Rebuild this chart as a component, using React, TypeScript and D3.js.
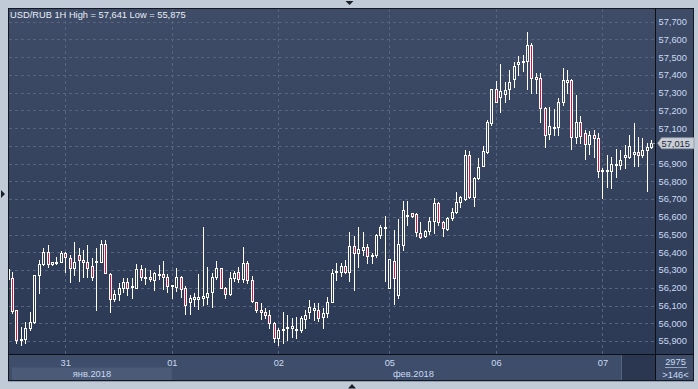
import React from "react";
import * as d3 from "d3";

// ---- data (USD/RUB 1H, 146 bars) ----
const opens = [
  56.306, 56.254, 56.075, 55.908, 55.910, 55.972, 56.009, 56.272, 56.332, 56.400,
  56.332, 56.344, 56.347, 56.394, 56.366, 56.310, 56.385, 56.357, 56.344, 56.325,
  56.344, 56.344, 56.447, 56.276, 56.137, 56.163, 56.197, 56.234, 56.206, 56.201,
  56.304, 56.259, 56.261, 56.242, 56.276, 56.276, 56.261, 56.212, 56.206, 56.261,
  56.197, 56.122, 56.135, 56.135, 56.144, 56.146, 56.175, 56.263, 56.310, 56.197,
  56.163, 56.257, 56.287, 56.248, 56.338, 56.242, 56.118, 56.073, 56.065, 56.047,
  56.000, 55.915, 55.966, 55.972, 55.972, 55.966, 55.962, 56.024, 56.065, 56.075,
  56.075, 56.037, 56.060, 56.122, 56.291, 56.291, 56.323, 56.291, 56.436, 56.398,
  56.415, 56.428, 56.385, 56.385, 56.498, 56.541, 56.201, 56.351, 56.159, 56.441,
  56.610, 56.620, 56.614, 56.507, 56.490, 56.518, 56.578, 56.676, 56.573, 56.531,
  56.592, 56.626, 56.682, 56.701, 56.949, 56.713, 56.817, 56.888, 56.964, 57.127,
  57.321, 57.277, 57.291, 57.319, 57.375, 57.460, 57.478, 57.478, 57.569, 57.390,
  57.381, 57.212, 57.067, 57.105, 57.105, 57.249, 57.362, 57.371, 57.048, 57.135,
  57.071, 57.009, 57.060, 57.046, 56.864, 56.864, 56.858, 56.896, 56.892, 56.936,
  56.939, 56.953, 56.964, 56.947, 56.977, 56.992,
];
const highs = [
  56.312, 56.291, 56.075, 55.981, 56.006, 56.062, 56.272, 56.357, 56.422, 56.441,
  56.347, 56.375, 56.407, 56.403, 56.385, 56.460, 56.422, 56.413, 56.441, 56.366,
  56.422, 56.469, 56.469, 56.282, 56.188, 56.225, 56.257, 56.253, 56.253, 56.332,
  56.328, 56.310, 56.300, 56.291, 56.328, 56.351, 56.276, 56.216, 56.313, 56.267,
  56.210, 56.159, 56.169, 56.276, 56.541, 56.315, 56.282, 56.351, 56.310, 56.206,
  56.291, 56.295, 56.319, 56.428, 56.351, 56.267, 56.118, 56.113, 56.084, 56.075,
  56.009, 55.972, 56.062, 56.047, 56.028, 56.037, 56.041, 56.075, 56.131, 56.113,
  56.113, 56.084, 56.146, 56.306, 56.338, 56.338, 56.357, 56.513, 56.492, 56.541,
  56.513, 56.445, 56.394, 56.502, 56.554, 56.606, 56.362, 56.526, 56.588, 56.689,
  56.689, 56.620, 56.620, 56.573, 56.526, 56.601, 56.708, 56.685, 56.577, 56.601,
  56.652, 56.738, 56.719, 56.977, 56.971, 56.826, 56.933, 57.001, 57.146, 57.321,
  57.366, 57.460, 57.362, 57.428, 57.475, 57.508, 57.512, 57.641, 57.578, 57.409,
  57.409, 57.221, 57.218, 57.206, 57.268, 57.437, 57.428, 57.377, 57.287, 57.168,
  57.090, 57.082, 57.090, 57.074, 56.874, 56.949, 56.939, 56.981, 56.977, 57.005,
  57.061, 57.127, 57.052, 57.043, 57.018, 57.033,
];
const lows = [
  56.244, 56.056, 55.887, 55.875, 55.887, 55.962, 55.999, 56.169, 56.328, 56.317,
  56.328, 56.332, 56.345, 56.291, 56.234, 56.272, 56.238, 56.263, 56.263, 56.244,
  56.075, 56.344, 56.282, 56.065, 56.126, 56.131, 56.178, 56.159, 56.141, 56.197,
  56.244, 56.220, 56.238, 56.188, 56.250, 56.193, 56.178, 56.144, 56.182, 56.148,
  56.050, 56.050, 56.099, 56.080, 56.103, 56.107, 56.093, 56.250, 56.197, 56.144,
  56.159, 56.238, 56.234, 56.234, 56.225, 56.118, 56.065, 56.024, 56.028, 55.975,
  55.896, 55.878, 55.887, 55.906, 55.924, 55.915, 55.949, 55.972, 56.028, 56.019,
  56.013, 55.975, 56.037, 56.118, 56.244, 56.267, 56.282, 56.238, 56.188, 56.319,
  56.385, 56.338, 56.338, 56.375, 56.479, 56.238, 56.197, 56.107, 56.141, 56.413,
  56.554, 56.601, 56.490, 56.479, 56.484, 56.502, 56.507, 56.554, 56.490, 56.526,
  56.582, 56.620, 56.657, 56.695, 56.704, 56.663, 56.813, 56.885, 56.960, 57.118,
  57.246, 57.193, 57.249, 57.263, 57.334, 57.400, 57.424, 57.319, 57.300, 57.300,
  57.136, 56.992, 57.041, 57.061, 57.061, 57.230, 57.300, 56.982, 57.015, 57.015,
  56.928, 56.953, 56.939, 56.826, 56.705, 56.770, 56.761, 56.826, 56.868, 56.874,
  56.930, 56.886, 56.886, 56.936, 56.748, 56.986,
];
const closes = [
  56.252, 56.069, 55.906, 55.912, 55.972, 56.009, 56.272, 56.332, 56.400, 56.332,
  56.344, 56.347, 56.394, 56.375, 56.313, 56.344, 56.357, 56.344, 56.313, 56.263,
  56.351, 56.447, 56.282, 56.137, 56.163, 56.201, 56.234, 56.201, 56.210, 56.304,
  56.263, 56.263, 56.250, 56.285, 56.278, 56.259, 56.212, 56.214, 56.261, 56.193,
  56.103, 56.141, 56.148, 56.148, 56.154, 56.169, 56.261, 56.310, 56.197, 56.163,
  56.253, 56.282, 56.250, 56.338, 56.242, 56.126, 56.075, 56.065, 56.047, 56.000,
  55.915, 55.962, 55.968, 55.981, 55.983, 55.968, 56.028, 56.047, 56.090, 56.084,
  56.031, 56.056, 56.122, 56.282, 56.293, 56.323, 56.291, 56.436, 56.398, 56.417,
  56.428, 56.379, 56.387, 56.498, 56.544, 56.543, 56.362, 56.253, 56.445, 56.639,
  56.612, 56.606, 56.513, 56.484, 56.518, 56.577, 56.676, 56.573, 56.535, 56.595,
  56.626, 56.682, 56.712, 56.949, 56.713, 56.817, 56.883, 56.971, 57.136, 57.321,
  57.249, 57.309, 57.315, 57.358, 57.450, 57.471, 57.480, 57.569, 57.384, 57.375,
  57.212, 57.060, 57.112, 57.106, 57.249, 57.371, 57.371, 57.048, 57.135, 57.056,
  57.009, 57.060, 57.046, 56.860, 56.866, 56.866, 56.896, 56.898, 56.920, 56.949,
  56.999, 56.964, 56.947, 56.977, 56.992, 57.015,
];

const priceTicks = [55.9, 56.0, 56.1, 56.2, 56.3, 56.4, 56.5, 56.6, 56.7, 56.8, 56.9, 57.0, 57.1, 57.2, 57.3, 57.4, 57.5, 57.6, 57.7];
const dayTickIndex = [13, 37, 61, 86, 110, 134];
const dayTickLabels = ["31", "01", "02", "05", "06", "07"];
const monthLabels = ["янв.2018", "фев.2018"];
const monthStartIndex = [0, 37];
const titleText = "USD/RUB 1H High = 57,641 Low = 55,875";
const lastPrice = 57.015;
const barsCountText = "2975";
const visibleBarsText = ">146<";

// ---- layout ----
const W = 698;
const H = 389;
const FL = 8, FT = 8, FR = 694, FB = 381; // frame
const PR = 655; // plot right (axis separator)
const PB = 354; // plot bottom (date axis separator)
const FONT = "'Liberation Sans', Arial, sans-serif";
const TXT = "#c9daf3";

const x = d3.scaleLinear().domain([1, 145]).range([12, 651.3]);
const y = d3.scaleLinear().domain([55.9, 57.7]).range([341, 21.7]);
const fmt = (v: number) => d3.format(".3f")(v).replace(".", ",");

export default function App() {
  const bars = d3.range(opens.length).map((i) => ({
    i,
    o: opens[i],
    h: highs[i],
    l: lows[i],
    c: closes[i],
  }));
  const janEnd = x(monthStartIndex[1]);
  const ly0 = y(lastPrice);
  // labels hidden under the last-price marker are not drawn
  const visibleTicks = priceTicks.filter((p) => Math.abs(y(p) - ly0) > 8);
  return (
    <svg
      width={W}
      height={H}
      style={{ position: "absolute", left: 0, top: 0, display: "block" }}
      xmlns="http://www.w3.org/2000/svg"
    >
      <defs>
        <linearGradient id="bg" gradientUnits="userSpaceOnUse" x1="0" y1={FT} x2="0" y2={PB}>
          <stop offset="0" stopColor="#3e4c67" />
          <stop offset="1" stopColor="#2c3955" />
        </linearGradient>
        <clipPath id="plotClip">
          <rect x={FL + 1} y={FT + 1} width={PR - FL - 1} height={PB - FT - 1} />
        </clipPath>
      </defs>
      {/* outer page */}
      <rect x={0} y={0} width={W} height={H} fill="#c1cbd8" />
      <polygon points="345.5,1 353.5,1 349.5,5" fill="#1b1f27" />
      <polygon points="1,190 1,198 5,194" fill="#1b1f27" />
      <polygon points="348,388.5 356,388.5 352,384" fill="#1b1f27" />
      {/* frame */}
      <rect x={FL} y={FT} width={FR - FL} height={FB - FT} fill="url(#bg)" />
      {/* date axis background */}
      <rect x={FL + 1} y={PB + 1} width={FR - FL - 1} height={FB - PB - 1} fill="#3e4d69" />
      <rect x={12} y={367.5} width={janEnd - 12} height={FB - 367.5} fill="#4a5a77" />
      <rect x={621} y={PB + 1} width={PR - 621} height={FB - PB - 1} fill="#2b3751" />
      <line x1={621.5} x2={621.5} y1={PB + 1} y2={FB} stroke="#56647d" />
      <rect x={FL + 0.5} y={FT + 0.5} width={FR - FL - 1} height={FB - FT - 1} fill="none" stroke="#15181f" />
      <line x1={FL} x2={FR} y1={FB + 0.5} y2={FB + 0.5} stroke="#8f9cb1" />

      {/* grid */}
      <g stroke="#56647f" strokeDasharray="3,3" strokeWidth={1}>
        {priceTicks.map((p) => (
          <line key={p} x1={FL + 1} x2={PR} y1={Math.round(y(p)) + 0.5} y2={Math.round(y(p)) + 0.5} />
        ))}
        {dayTickIndex.map((d) => (
          <line key={d} x1={Math.round(x(d)) + 0.5} x2={Math.round(x(d)) + 0.5} y1={FT + 1} y2={PB} />
        ))}
      </g>

      {/* candles */}
      <g clipPath="url(#plotClip)">
        {bars.map((b) => {
          const cx = Math.round(x(b.i)) + 0.5;
          const top = Math.round(y(Math.max(b.o, b.c)));
          const bot = Math.max(top + 1, Math.round(y(Math.min(b.o, b.c))));
          const hy = Math.round(y(b.h));
          const ly = Math.round(y(b.l));
          const bear = b.c < b.o;
          return (
            <g key={b.i}>
              {hy < top && <line x1={cx} x2={cx} y1={hy} y2={top} stroke="#ffffff" />}
              {ly > bot && <line x1={cx} x2={cx} y1={bot} y2={ly + 1} stroke="#ffffff" />}
              <rect
                x={cx - 1}
                y={top + 0.5}
                width={2}
                height={bot - top}
                fill={bear ? "#dc143c" : "url(#bg)"}
                stroke="#ffffff"
                strokeWidth={1}
              />
            </g>
          );
        })}
      </g>

      {/* separators */}
      <line x1={PR + 0.5} x2={PR + 0.5} y1={FT} y2={FB} stroke="#0d0f14" />
      <line x1={FL} x2={FR} y1={PB + 0.5} y2={PB + 0.5} stroke="#0d0f14" />

      {/* title */}
      <text x={10} y={18.3} fill="#e8eef7" fontFamily={FONT} fontSize={9.3}>
        {titleText}
      </text>

      {/* price axis labels */}
      <g fontFamily={FONT} fontSize={9.3} fill={TXT}>
        {visibleTicks.map((p) => (
          <text key={p} x={658.5} y={y(p) + 3.4}>
            {fmt(p)}
          </text>
        ))}
      </g>

      {/* last price marker */}
      <line x1={652} x2={655} y1={Math.round(ly0) + 0.5} y2={Math.round(ly0) + 0.5} stroke="#9aa4b4" />
      <polygon
        points={`657.5,${ly0} 661.5,${ly0 - 5.5} 694,${ly0 - 5.5} 694,${ly0 + 5.5} 661.5,${ly0 + 5.5}`}
        fill="#c9ced6"
        stroke="#8c94a2"
        strokeWidth={0.8}
      />
      <text x={661.5} y={ly0 + 3.4} fontFamily={FONT} fontSize={9.3} fill="#1d2a40">
        {fmt(lastPrice)}
      </text>

      {/* date labels */}
      <g fontFamily={FONT} fontSize={9.3} fill={TXT} textAnchor="middle">
        {dayTickIndex.map((d, k) => (
          <text key={d} x={x(d) + 0.5} y={365.7}>
            {dayTickLabels[k]}
          </text>
        ))}
        <text x={(12 + janEnd) / 2} y={376.7}>
          {monthLabels[0]}
        </text>
        <text x={(janEnd + PR) / 2} y={376.7}>
          {monthLabels[1]}
        </text>
        <text x={675.5} y={365}>
          {barsCountText}
        </text>
        <text x={675.5} y={377.5}>
          {visibleBarsText}
        </text>
      </g>
      <line x1={665} x2={687} y1={367.5} y2={367.5} stroke="#aebfd8" strokeWidth={0.8} />
    </svg>
  );
}
